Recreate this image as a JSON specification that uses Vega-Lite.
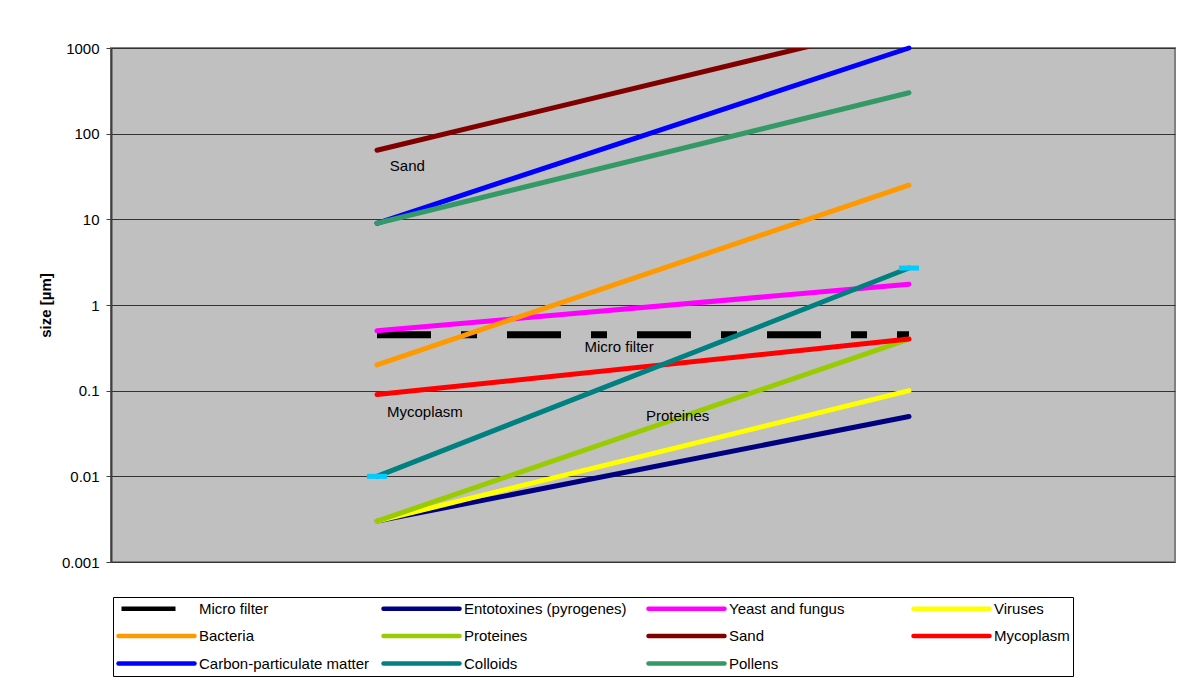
{
 "$schema": "https://vega.github.io/schema/vega-lite/v6.json",
 "width": 1064, "height": 514,
 "autosize": {"type": "none"},
 "padding": {"left": 111, "top": 48, "right": 7, "bottom": 118},
 "background": "white",
 "config": {"font": "Liberation Sans", "view": {"fill": "#C0C0C0", "stroke": "#808080", "strokeWidth": 2}},
 "datasets": {
  "lines": [
   {"series": "Micro filter", "pos": 0, "size": 0.45}, {"series": "Micro filter", "pos": 1, "size": 0.45},
   {"series": "Entotoxines (pyrogenes)", "pos": 0, "size": 0.003}, {"series": "Entotoxines (pyrogenes)", "pos": 1, "size": 0.05},
   {"series": "Yeast and fungus", "pos": 0, "size": 0.5}, {"series": "Yeast and fungus", "pos": 1, "size": 1.75},
   {"series": "Viruses", "pos": 0, "size": 0.003}, {"series": "Viruses", "pos": 1, "size": 0.1},
   {"series": "Bacteria", "pos": 0, "size": 0.2}, {"series": "Bacteria", "pos": 1, "size": 25},
   {"series": "Proteines", "pos": 0, "size": 0.003}, {"series": "Proteines", "pos": 1, "size": 0.4},
   {"series": "Sand", "pos": 0, "size": 64}, {"series": "Sand", "pos": 1, "size": 2000},
   {"series": "Mycoplasm", "pos": 0, "size": 0.09}, {"series": "Mycoplasm", "pos": 1, "size": 0.4},
   {"series": "Carbon-particulate matter", "pos": 0, "size": 9}, {"series": "Carbon-particulate matter", "pos": 1, "size": 1000},
   {"series": "Colloids", "pos": 0, "size": 0.01}, {"series": "Colloids", "pos": 1, "size": 2.7},
   {"series": "Pollens", "pos": 0, "size": 9}, {"series": "Pollens", "pos": 1, "size": 300}
  ],
  "labels": [
   {"label": "Sand", "pos": 0.057, "size": 42},
   {"label": "Micro filter", "pos": 0.455, "size": 0.324},
   {"label": "Mycoplasm", "pos": 0.09, "size": 0.0564},
   {"label": "Proteines", "pos": 0.565, "size": 0.0506}
  ]
 },
 "encoding": {
  "x": {"field": "pos", "type": "quantitative", "scale": {"domain": [-0.5, 1.5]}, "axis": null},
  "y": {"field": "size", "type": "quantitative", "scale": {"type": "log", "domain": [0.001, 1000]},
   "axis": {"title": "size [µm]", "titleFont": "Liberation Sans", "titleFontSize": 15, "titleFontWeight": "bold", "titleColor": "black", "titlePadding": 8,
    "values": [0.001, 0.01, 0.1, 1, 10, 100, 1000], "format": "~g", "labelFont": "Liberation Sans", "labelFontSize": 15, "labelColor": "black", "labelPadding": 7,
    "tickSize": 5, "tickColor": "#404040", "domainColor": "#404040", "domainWidth": 2, "grid": true, "gridColor": "#333333", "gridWidth": 1, "gridOpacity": 1}}
 },
 "layer": [
  {
   "data": {"name": "lines"},
   "transform": [{"filter": "datum.series === 'Micro filter'"}],
   "mark": {"type": "line", "strokeWidth": 7, "strokeCap": "butt", "strokeDash": [54, 30, 16, 30]},
   "encoding": {"color": {"field": "series", "type": "nominal"}}
  },
  {
   "data": {"name": "lines"},
   "transform": [{"filter": "datum.series !== 'Micro filter' && datum.series !== 'Sand'"}],
   "mark": {"type": "line", "strokeWidth": 5, "strokeCap": "round"},
   "encoding": {"color": {"field": "series", "type": "nominal",
    "scale": {"domain": ["Micro filter", "Entotoxines (pyrogenes)", "Yeast and fungus", "Viruses", "Bacteria", "Proteines", "Sand", "Mycoplasm", "Carbon-particulate matter", "Colloids", "Pollens"],
     "range": ["#000000", "#000080", "#FF00FF", "#FFFF00", "#FF9900", "#99CC00", "#800000", "#FF0000", "#0000FF", "#008080", "#339966"]},
    "legend": {"orient": "none", "legendX": 2, "legendY": 549, "direction": "horizontal", "columns": 4, "title": null,
     "symbolType": "M-1,0H11.667", "symbolSize": 144, "symbolStrokeWidth": 4.5, "labelFontSize": 15, "labelFont": "Liberation Sans", "labelColor": "black",
     "labelOffset": 66, "columnPadding": 4, "rowPadding": 8.5, "padding": 3, "strokeColor": "black", "fillColor": "white", "gridAlign": "all", "labelLimit": 400,
     "encode": {"symbols": {"update": {
      "strokeCap": {"signal": "datum.value === 'Micro filter' ? 'butt' : 'round'"},
      "shape": {"signal": "datum.value === 'Micro filter' ? 'M-0.5,0H8.5' : 'M-1,0H11.667'"}}}}}}}
  },
  {
   "data": {"name": "lines"},
   "transform": [{"filter": "datum.series === 'Sand'"}],
   "mark": {"type": "line", "strokeWidth": 5, "strokeCap": "round", "clip": true},
   "encoding": {"color": {"field": "series", "type": "nominal"}}
  },
  {
   "data": {"name": "lines"},
   "transform": [{"filter": "datum.series === 'Colloids'"}],
   "mark": {"type": "point", "shape": "M-1,-0.25H1V0.25H-1Z", "filled": true, "size": 400, "color": "#00CCFF", "opacity": 1},
   "encoding": {}
  },
  {
   "data": {"name": "labels"},
   "mark": {"type": "text", "font": "Liberation Sans", "fontSize": 15, "color": "black", "align": "center", "baseline": "middle"},
   "encoding": {"text": {"field": "label"}}
  }
 ]
}
